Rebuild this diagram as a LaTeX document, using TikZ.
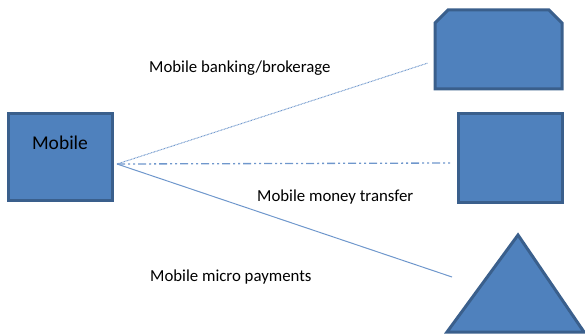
\documentclass[tikz,border=0pt]{standalone}
\usepackage{fontspec}
\setmainfont{Carlito}
\definecolor{boxblue}{HTML}{4F81BD}
\definecolor{boxedge}{HTML}{3A5F8C}
\definecolor{linkblue}{HTML}{6F97CC}
\tikzset{
  shapebox/.style={draw=boxedge, line width=3pt, fill=boxblue},
  linktext/.style={anchor=west, inner sep=0pt},
  link/.style={color=linkblue, line width=1pt}
}
\begin{document}
\begin{tikzpicture}[x=1pt, y=-1pt, font=\fontsize{16.8}{18}\selectfont]
	\useasboundingbox (0,0) rectangle (585,334);
	% the source box
	\node[shapebox, minimum width=104, minimum height=87] (mobile) at (60,156.5) {};
	\node[inner sep=0pt, font=\fontsize{19.5}{21}\selectfont] (mobiletext) at (60,143) {Mobile};
	% the three targets
	\draw[shapebox] (435,89) -- (435,23) coordinate (snipa) -- (448,10) -- (549,10) -- (562,23) -- (562,89) -- cycle;
	\coordinate (banking) at (435,50);
	\node[shapebox, minimum width=104, minimum height=89] (money) at (510,157.5) {};
	\draw[shapebox] (447,332) -- (518,235) -- (584,332) -- cycle;
	\coordinate (micro) at (518,290);
	% connectors
	\coordinate (hub) at (117,164);
	\coordinate (bankend) at (428,63);
	\coordinate (moneyend) at (452,163);
	\coordinate (microend) at (452,277);
	\draw[link, line width=1pt, dash pattern=on 0.8pt off 0.7pt] (hub) -- (bankend);
	\draw[link, line width=1.3pt, dash pattern=on 8pt off 3pt on 2pt off 3pt on 2pt off 3pt] (hub) -- (moneyend);
	\draw[link] (hub) -- (microend);
	% labels
	\node[linktext] (banktext) at (149,68) {Mobile banking/brokerage};
	\node[linktext] (moneytext) at (257,197) {Mobile money transfer};
	\node[linktext] (microtext) at (150,277) {Mobile micro payments};
\end{tikzpicture}
\end{document}
